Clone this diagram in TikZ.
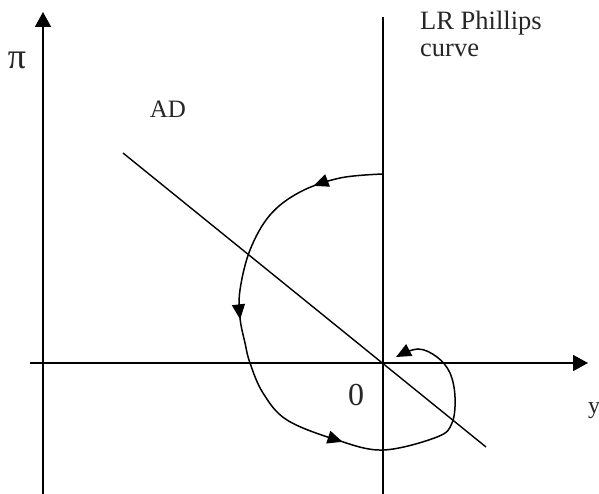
\documentclass[tikz,border=0pt]{standalone}
\usepackage{fontspec}
\setmainfont{Liberation Serif}
\usetikzlibrary{arrows.meta,decorations.markings}
\begin{document}
\begin{tikzpicture}[x=1pt,y=-1pt,
  axis/.style={line width=1.7pt,-{Triangle[length=15pt,width=16pt]}},
  plain/.style={line width=1.4pt},
  lbl/.style={inner sep=0pt,font=\fontsize{25}{27}\selectfont,text=black!85},
  pathline/.style={line width=1.5pt},
  midarrow/.style={postaction={decorate},decoration={markings,
    mark=at position 0.11 with {\arrow{Triangle[length=15pt,width=13pt]}},
    mark=at position 0.365 with {\arrow{Triangle[length=15pt,width=13pt]}},
    mark=at position 0.635 with {\arrow{Triangle[length=15pt,width=13pt]}}}}
]
\useasboundingbox (0,0) rectangle (599,494);
% axes
\coordinate (vb) at (43,494);
\coordinate (vt) at (43,12);
\coordinate (hl) at (30,363);
\coordinate (hr) at (588,363);
\draw[axis] (vb) -- (vt);
\draw[axis] (hl) -- (hr);
% LR Phillips curve
\coordinate (lrb) at (383,494);
\coordinate (lrt) at (383,17);
\draw[line width=1.7pt] (lrb) -- (lrt);
% AD line
\coordinate (ads) at (123,153);
\coordinate (ade) at (486,447);
\draw[plain] (ads) -- (ade);
% adjustment path
\draw[pathline,midarrow,-{Triangle[length=15pt,width=13pt]}] plot[smooth,tension=0.6] coordinates {
 (383,174) (340,178) (300,192) (270,215) (250,250) (240,290) (240,318)
 (245,343) (250,363) (263,393) (287,420) (337,440) (383,450) (437,437)
 (452,423) (455,397) (450,373) (437,357) (418,349) (396,357)};
% labels
\node[lbl,anchor=base,font=\fontsize{36}{36}\selectfont] (pi) at (17,69) {π};
\node[lbl,anchor=base] (ad) at (168,118) {AD};
\node[lbl,anchor=base west,align=left,font=\fontsize{26.5}{27}\selectfont] (lr) at (420,57) {LR Phillips\\curve};
\node[lbl,anchor=base,font=\fontsize{32}{32}\selectfont] (zero) at (356,405) {0};
\node[lbl,anchor=base west,font=\fontsize{24}{24}\selectfont] (y) at (588,413) {y};
\end{tikzpicture}
\end{document}
